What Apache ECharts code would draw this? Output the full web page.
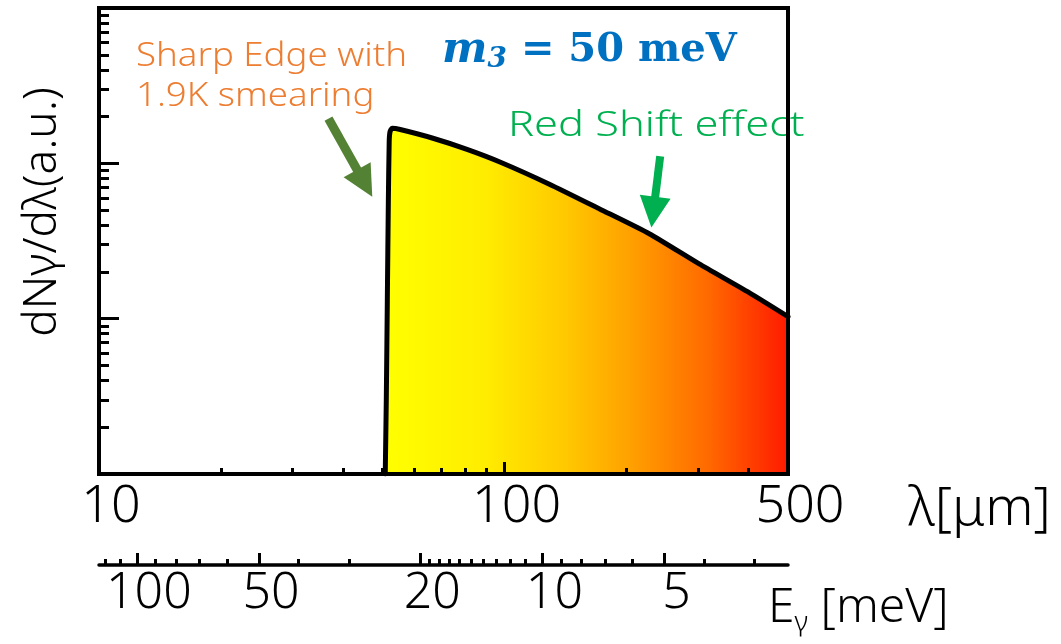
<!DOCTYPE html>
<html>
<head>
<meta charset="utf-8">
<script src="https://cdn.jsdelivr.net/npm/echarts@6/dist/echarts.min.js"></script>
<style>html,body{margin:0;padding:0;background:#fff}#c{width:1061px;height:644px}</style>
</head>
<body>
<div id="c"></div>
<script>
// ---- data ----
const lambda = [50.8, 51.1, 51.4, 51.7, 51.95, 52.2, 52.8, 55.3, 66.6, 80.8, 97.4, 129, 172, 228, 302, 401, 500];
const dNdl   = [0.1, 0.3, 1.3, 5.7, 13.8, 16.0, 16.8, 16.5, 14.5, 12.3, 10.2, 7.34, 5.07, 3.51, 2.25, 1.47, 1.03];
const lambdaMajorTicks = [10, 100, 500];
const lambdaMinorTicks = [20, 30, 40, 50, 60, 70, 80, 90, 200, 300, 400];
const energyMajorTicks = [100, 50, 20, 10, 5];
const energyMinorTicks = [120, 110, 90, 80, 70, 60, 40, 30, 19, 18, 17, 16, 15, 14, 13, 12, 11, 9, 8, 7, 6, 4, 3];
const yMajorTicks = [1, 10];
const yMinorTicks = [0.2,0.3,0.4,0.5,0.6,0.7,0.8,0.9,2,3,4,5,6,7,8,9,20,30,40,50,60,70,80,90];
const edgeArrow = [[36.8, 19.4], [45.2, 7.44]];
const redShiftArrow = [[242, 11.1], [232.7, 4.85]];
const HC = 1239.84; // E[meV] = HC / lambda[um]

const toLambda = arr => arr.map(e => HC / e);
const FONT = 'Noto Sans';
const W = 300;
const X_MIN = 10, X_MAX = 500, Y_MIN = 0.1, Y_MAX = 100;

const baseX = {
  type: 'log', logBase: 10, min: X_MIN, max: X_MAX, position: 'bottom', gridIndex: 0,
  splitLine: { show: false }, axisLine: { show: false }, axisLabel: { show: false },
  axisTick: { show: false }, z: 5
};
const baseY = {
  type: 'log', logBase: 10, min: Y_MIN, max: Y_MAX, position: 'left',
  splitLine: { show: false }, axisLine: { show: false }, axisLabel: { show: false },
  axisTick: { show: false }, z: 5
};

const chart = echarts.init(document.getElementById('c'), null, { renderer: 'canvas' });
chart.setOption({
  animation: false,
  grid: { left: 99, right: 273, top: 8, bottom: 170, show: true, borderColor: '#000', borderWidth: 4, backgroundColor: 'transparent' },
  xAxis: [
    Object.assign({}, baseX, {
      axisLine: { show: true, lineStyle: { color: '#000', width: 4 } },
      axisTick: { show: true, inside: true, length: 12, customValues: lambdaMajorTicks, lineStyle: { color: '#000', width: 3 } },
      axisLabel: { show: true, customValues: lambdaMajorTicks, fontFamily: FONT, fontWeight: W, fontSize: 52, color: '#000', margin: 7, padding: [0, 0, 0, 24] },
      name: 'λ[μm]', nameLocation: 'end', nameGap: 120,
      nameTextStyle: { fontFamily: FONT, fontWeight: W, fontSize: 54, color: '#000', verticalAlign: 'top', padding: [9, 0, 0, 0] }
    }),
    Object.assign({}, baseX, {
      axisTick: { show: true, inside: true, length: 6, customValues: lambdaMinorTicks, lineStyle: { color: '#000', width: 3 } }
    }),
    Object.assign({}, baseX, {
      offset: 91,
      axisLine: { show: true, lineStyle: { color: '#000', width: 3.5 } },
      axisTick: { show: true, inside: true, length: 12, customValues: toLambda(energyMajorTicks), lineStyle: { color: '#000', width: 3 } },
      axisLabel: { show: true, customValues: toLambda(energyMajorTicks), formatter: v => String(Math.round(HC / v)),
        fontFamily: FONT, fontWeight: W, fontSize: 50, color: '#000', margin: 4, padding: [0, 0, 0, 24] }
    }),
    Object.assign({}, baseX, {
      offset: 91,
      axisTick: { show: true, inside: true, length: 6, customValues: toLambda(energyMinorTicks), lineStyle: { color: '#000', width: 3 } }
    })
  ],
  yAxis: [
    Object.assign({}, baseY, {
      axisLine: { show: true, lineStyle: { color: '#000', width: 4 } },
      axisTick: { show: true, inside: true, length: 20, customValues: yMajorTicks, lineStyle: { color: '#000', width: 3 } },
      name: 'dNγ/dλ(a.u.)', nameLocation: 'middle', nameGap: 33, nameRotate: 90,
      nameTextStyle: { fontFamily: FONT, fontWeight: W, fontSize: 46, color: '#000', padding: [0, 0, 0, 58] }
    }),
    Object.assign({}, baseY, {
      axisTick: { show: true, inside: true, length: 10, customValues: yMinorTicks, lineStyle: { color: '#000', width: 3 } }
    }),
    Object.assign({}, baseY, {
      position: 'right',
      axisLine: { show: true, lineStyle: { color: '#000', width: 4 } }
    })
  ],
  series: [{
    type: 'line', xAxisIndex: 0, yAxisIndex: 0,
    data: lambda.map((l, i) => [l, dNdl[i]]),
    symbol: 'none', smooth: 0.2,
    lineStyle: { color: '#000', width: 5, join: 'round', cap: 'round' },
    areaStyle: {
      origin: 'start', opacity: 1,
      color: { type: 'linear', x: 0, y: 0, x2: 1, y2: 0, colorStops: [
        { offset: 0, color: '#FFFF00' },
        { offset: 0.25, color: '#FFEC00' },
        { offset: 0.45, color: '#FFC800' },
        { offset: 0.6, color: '#FFA300' },
        { offset: 0.8, color: '#FF6A00' },
        { offset: 1, color: '#FF1A00' }
      ] }
    },
    z: 2,
    markLine: {
      silent: true, animation: false, label: { show: false },
      symbol: ['none', 'triangle'], symbolSize: 31,
      data: [
        [ { coord: edgeArrow[0], lineStyle: { color: '#548235', width: 9, type: 'solid' }, itemStyle: { color: '#548235' } },
          { coord: edgeArrow[1] } ],
        [ { coord: redShiftArrow[0], lineStyle: { color: '#00B050', width: 8, type: 'solid' }, itemStyle: { color: '#00B050' } },
          { coord: redShiftArrow[1] } ]
      ],
      emphasis: { disabled: true }
    }
  }],
  graphic: [
    { type: 'text', x: 136, y: 37, scaleX: 1.11, style: { text: 'Sharp Edge with\n1.9K smearing', fontFamily: FONT, fontWeight: W, fontSize: 33, lineHeight: 40, fill: '#ED7D31' } },
    { type: 'text', x: 508, y: 109, scaleX: 1.24, style: { text: 'Red Shift effect', fontFamily: FONT, fontWeight: W, fontSize: 35, fill: '#00B050' } },
    { type: 'text', left: 442, top: 29, style: {
      rich: {
        m: { fontFamily: 'DejaVu Serif', fontStyle: 'italic', fontWeight: 'bold', fontSize: 43, fill: '#0070C0' },
        s: { fontFamily: 'DejaVu Serif', fontStyle: 'italic', fontWeight: 'bold', fontSize: 28, fill: '#0070C0', padding: [18, 0, 0, 0] },
        n: { fontFamily: 'DejaVu Serif', fontWeight: 'bold', fontSize: 40, fill: '#0070C0' }
      },
      text: '{m|m}{s|3}{n| = 50 meV}'
    } },
    { type: 'text', left: 768, top: 584, style: {
      rich: {
        e: { fontFamily: FONT, fontWeight: W, fontSize: 48, fill: '#000' },
        g: { fontFamily: FONT, fontWeight: W, fontSize: 28, fill: '#000', padding: [30, 0, 0, 0] }
      },
      text: '{e|E}{g|γ}{e| [meV]}'
    } }
  ]
});
</script>
</body>
</html>
